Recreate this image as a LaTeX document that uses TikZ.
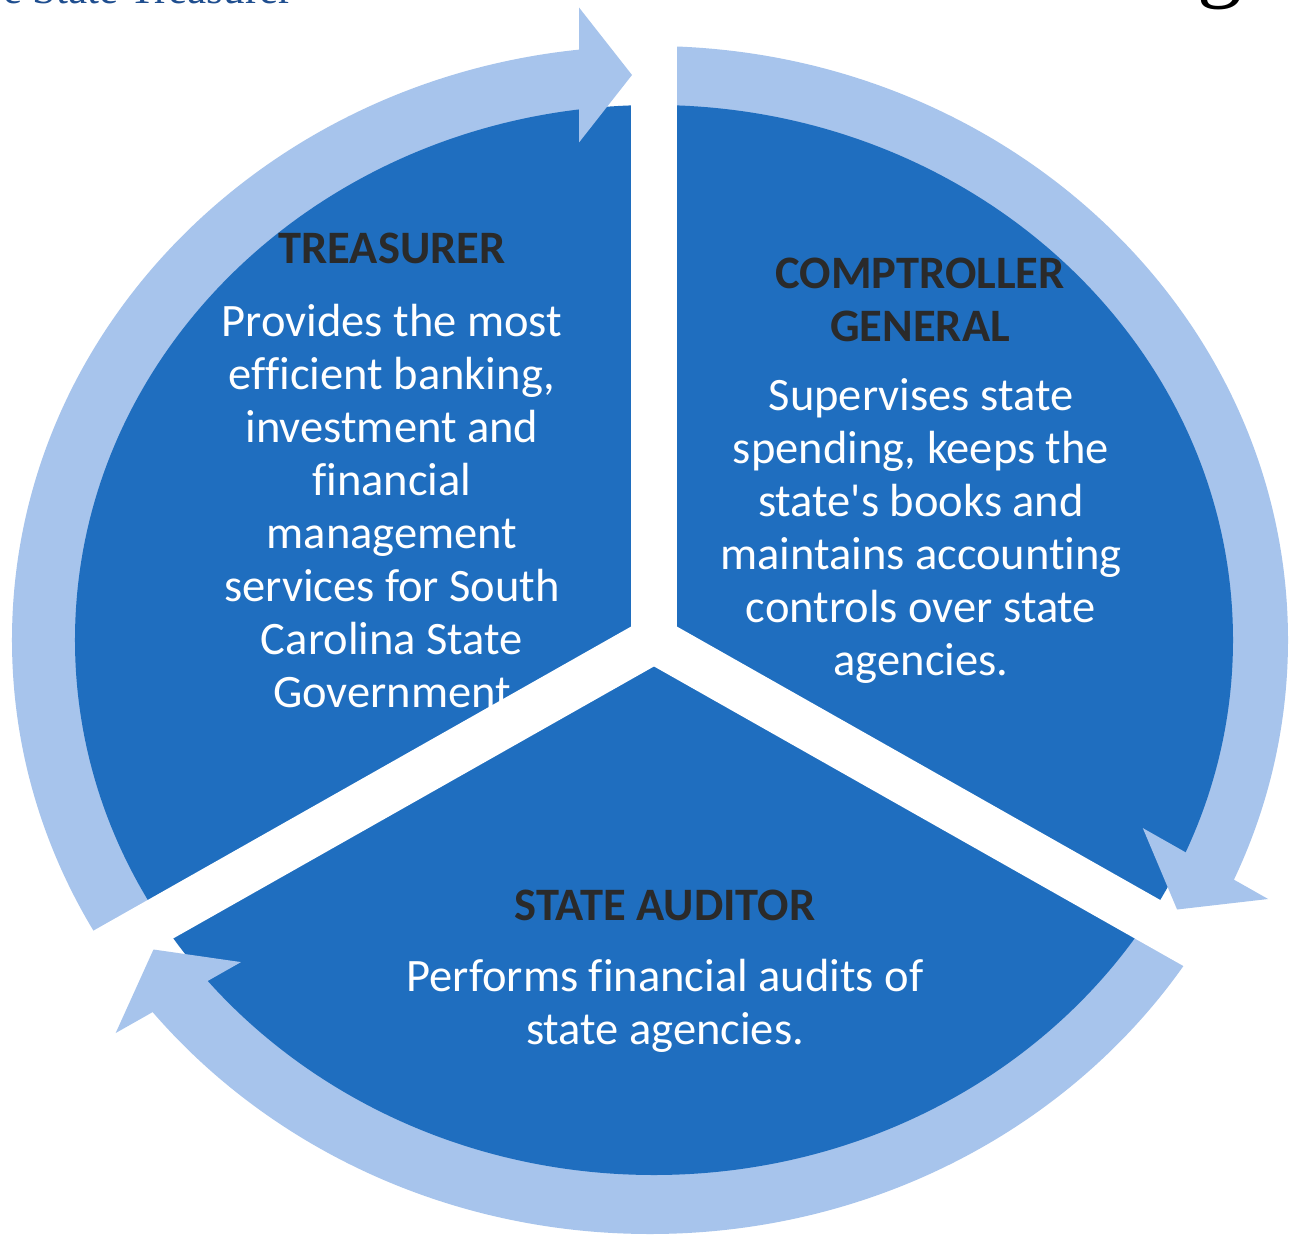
\documentclass[tikz,border=0pt]{standalone}
\usepackage{fontspec}
\setmainfont{Carlito}[Ligatures={TeXOff,NoCommon}]
\newfontfamily\titleserif{Liberation Serif}
\definecolor{darkblue}{HTML}{1F6EBF}
\definecolor{lightblue}{HTML}{A7C4EC}
\definecolor{navytitle}{HTML}{1F4E8F}
\definecolor{headgray}{HTML}{2A2A2A}
\begin{document}
\begin{tikzpicture}[x=1pt,y=1pt,
  sectorfill/.style={fill=darkblue},
  ringfill/.style={fill=lightblue},
  gapband/.style={draw=white, line width=46pt, line cap=round},
  headtext/.style={text=headgray, font=\fontsize{46.5}{53}\selectfont\bfseries, align=center, inner sep=0pt},
  bodytext/.style={text=white, font=\fontsize{46.5}{53}\selectfont, align=center, inner sep=0pt},
]
\useasboundingbox (-654,-599) rectangle (635,640);
\clip (-654,-599) rectangle (635,640);
\fill[white] (-654,-599) rectangle (635,640);

\coordinate (C) at (0,0);
\coordinate (G1) at (90:720);
\coordinate (G2) at (209.5:720);
\coordinate (G3) at (330.5:720);

% ring bodies of the three circular arrows
\begin{scope}
  \clip (-73,0) -- (-73,900) -- (-900,900) -- (-900,-510) -- (C) -- cycle;
  \fill[ringfill] (-4,0) ellipse [x radius=638, y radius=594];
\end{scope}
\begin{scope}
  \clip (C) -- (0,900) -- (1000,900) -- (907.3,-427.1) -- (36.9,65.3) -- cycle;
  \fill[ringfill] (-4,0) ellipse [x radius=638, y radius=594];
\end{scope}
\begin{scope}
  \clip (C) -- (783,-443) -- (800,-900) -- (-800,-900) -- (-833.5,-557.7) -- (36.9,-65.3) -- cycle;
  \fill[ringfill] (-4,0) ellipse [x radius=638, y radius=594];
\end{scope}

% pie
\fill[sectorfill] (C) ellipse [x radius=579, y radius=535];

% white gaps between the segments
\draw[gapband] (C) -- (G1);
\draw[gapband] (C) -- (G2);
\draw[gapband] (C) -- (G3);

% arrow heads
\fill[ringfill] (-75,632.5) -- (-22,565) -- (-75,497.5) -- cycle;
\fill[ringfill] (488.8,-188.1) -- (523.1,-269.5) -- (614.1,-259) -- cycle;
\fill[ringfill] (-538.3,-393) -- (-500.5,-309.5) -- (-413.0,-322.1) -- cycle;

% texts
\node[headtext] (treasT) at (-262,392) {TREASURER};
\node[bodytext] (treasB) at (-262,134) {Provides the most\\efficient banking,\\investment and\\financial\\management\\services for South\\Carolina State\\Government};
\node[headtext] (compT) at (266,340.5) {COMPTROLLER\\GENERAL};
\node[bodytext] (compB) at (267,109.5) {Supervises state\\spending, keeps the\\state's books and\\maintains accounting\\controls over state\\agencies.};
\node[headtext] (audT) at (11,-265) {STATE AUDITOR};
\node[bodytext] (audB) at (11,-366) {Performs financial audits of\\state agencies.};

% cropped page header remnants
\node[anchor=base east, inner sep=0pt, text=navytitle, font=\titleserif\fontsize{43}{43}\selectfont] (hdrL) at (-361,636) {e State Treasurer};
\node[anchor=base west, inner sep=0pt, text=black, font=\titleserif\fontsize{90}{90}\selectfont] (hdrR) at (543,649.6) {g};
\end{tikzpicture}
\end{document}
